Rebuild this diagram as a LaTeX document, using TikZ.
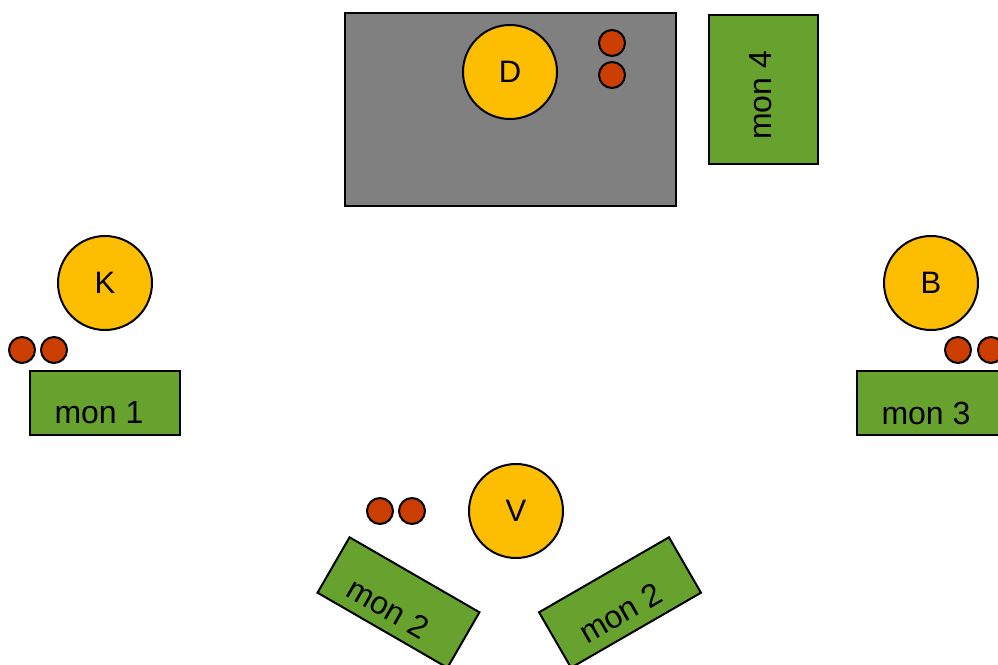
\documentclass[tikz,border=0pt]{standalone}
\usepackage{fontspec}
\setmainfont{Liberation Sans}
\definecolor{seatyellow}{HTML}{FDBD00}
\definecolor{mongreen}{HTML}{67A22E}
\definecolor{dotred}{HTML}{CC3D00}
\definecolor{deskgray}{HTML}{808080}
\begin{document}
\begin{tikzpicture}[x=1pt, y=-1pt, line width=2pt,
  person/.style={circle, draw=black, fill=seatyellow, minimum size=94pt, inner sep=0pt, font=\fontsize{31}{37}\selectfont},
  dot/.style={circle, draw=black, fill=dotred, minimum size=26pt, inner sep=0pt},
  monbox/.style={rectangle, draw=black, fill=mongreen, minimum width=150pt, minimum height=64pt, inner sep=0pt},
  montext/.style={inner sep=0pt, font=\fontsize{32}{38}\selectfont}]
\useasboundingbox (0,0) rectangle (998,664);
\fill[white] (0,0) rectangle (998,664);
% Tisch D
\draw[fill=deskgray] (345,13) rectangle (676,206);
\node[person] (D) at (510,72) {D};
\node[dot] (d1) at (612,43) {};
\node[dot] (d2) at (612,75) {};
\node[rectangle, draw=black, fill=mongreen, minimum width=109pt, minimum height=149pt, inner sep=0pt] (mon4) at (763.5,89.5) {};
\node[montext, rotate=90] (t4) at (760.5,95.5) {mon 4};
% Platz K
\node[person] (K) at (105,283) {K};
\node[dot] (k1) at (22,350) {};
\node[dot] (k2) at (54,350) {};
\node[monbox] (mon1) at (105,403) {};
\node[montext] (t1) at (99,413) {mon 1};
% Platz B
\node[person] (B) at (931,283) {B};
\node[dot] (b1) at (958,350) {};
\node[dot] (b2) at (991,350) {};
\node[monbox] (mon3) at (932,403) {};
\node[montext] (t3) at (926,413) {mon 3};
% Platz V
\node[person] (V) at (516,511) {V};
\node[dot] (v1) at (380,511) {};
\node[dot] (v2) at (412,511) {};
\node[monbox, rotate=-30] (mon2a) at (398.5,602.5) {};
\node[montext, rotate=-30] (t2a) at (388.3,608.2) {mon 2};
\node[monbox, rotate=30] (mon2b) at (620,602.5) {};
\node[montext, rotate=30] (t2b) at (620.5,613) {mon 2};
\end{tikzpicture}
\end{document}
